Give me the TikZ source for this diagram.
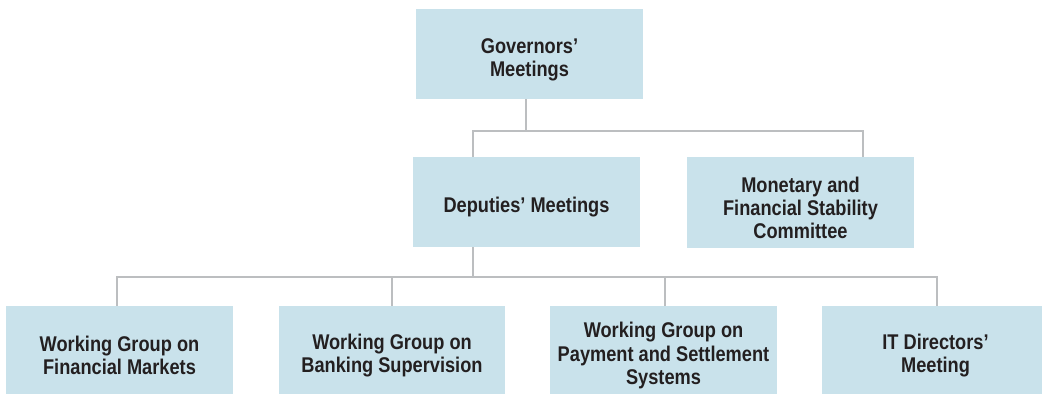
\documentclass[tikz,border=0pt]{standalone}
\usepackage{fontspec}
\setmainfont{Liberation Sans}[FakeStretch=0.855]
\definecolor{boxfill}{HTML}{C9E2EB}
\definecolor{linegray}{HTML}{BCBEC0}
\definecolor{txt}{HTML}{231F20}
\tikzset{
  orgbox/.style={fill=boxfill, draw=none, inner sep=0pt},
  orgtext/.style={inner sep=0pt, align=center, yshift=-5.5pt,
    text=txt, font=\fontsize{21.3}{23.3}\selectfont\bfseries},
  conn/.style={draw=linegray, line width=2.5pt}
}
\begin{document}
\begin{tikzpicture}[x=1pt,y=-1pt]
\useasboundingbox (0,0) rectangle (1042,394);
% boxes
\node[orgbox, minimum width=227pt, minimum height=90pt,
  label={[orgtext]center:Governors’\\Meetings}] (gov) at (529.5,54) {};
\node[orgbox, minimum width=227pt, minimum height=90pt,
  label={[orgtext]center:Deputies’ Meetings}] (dep) at (526.5,202) {};
\node[orgbox, minimum width=227pt, minimum height=91pt,
  label={[orgtext]center:Monetary and\\Financial Stability\\Committee}] (mfsc) at (800.5,202.5) {};
\node[orgbox, minimum width=227pt, minimum height=88pt,
  label={[orgtext]center:Working Group on\\Financial Markets}] (w1) at (119.5,350) {};
\node[orgbox, minimum width=226pt, minimum height=88pt,
  label={[orgtext]center:Working Group on\\Banking Supervision}] (w2) at (392,350) {};
\node[orgbox, minimum width=227pt, minimum height=88pt,
  label={[orgtext]center:Working Group on\\Payment and Settlement\\Systems}] (w3) at (663.5,350) {};
\node[orgbox, minimum width=220pt, minimum height=88pt,
  label={[orgtext, xshift=3.5pt]center:IT Directors’\\Meeting}] (w4) at (932,350) {};
% junction coordinates
\coordinate (tj) at (526,131);
\coordinate (tl) at (473,131);
\coordinate (tr) at (863,131);
\coordinate (dj) at (473,277);
\coordinate (bl) at (117,277);
\coordinate (br) at (937,277);
\coordinate (b3) at (665,277);
% connectors
\draw[conn] (gov.south -| tj) -- (tj);
\draw[conn] (dep.north -| tl) -- (tl) -- (tr) -- (mfsc.north -| tr);
\draw[conn] (dep.south -| dj) -- (dj);
\draw[conn] (w1.north -| bl) -- (bl) -- (br) -- (w4.north -| br);
\draw[conn] (w2.north) -- (w2.north |- bl);
\draw[conn] (w3.north -| b3) -- (b3);
\end{tikzpicture}
\end{document}
